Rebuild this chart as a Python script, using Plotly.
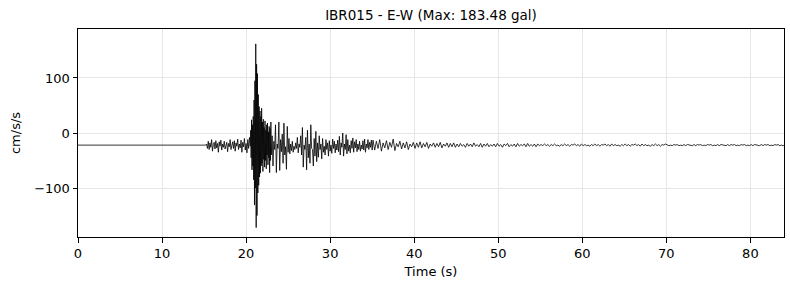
import numpy as np
import plotly.graph_objects as go

# Pre-event flat record
t_pre = [0.0, 15.2]
a_pre = [-22, -22]

# Segment A: 15.3 s onward, dt 0.1 s
a_start, a_dt = 15.3, 0.1
a_vals = [-20, -28, -15, -30, -18, -26, -12, -33, -21, -17, -29, -14, -27, -19, -35, -16, -24, -13,
          -31, -20, -26, -15, -29, -22, -17, -34, -19, -25, -12, -30, -21, -16, -28, -14, -33, -18,
          -24, -11, -30, -20, -27, -13, -35, -17, -25, -10, -31, -19, -36, -12, -28, -8]

# Segment B: strong motion, 20.5 s onward, dt 0.05 s
b_start, b_dt = 20.5, 0.05
b_vals = [-24, 5, -45, 24, -67, 15, -60, 30, -85, 60, -131, 95, -100, 162, -172, 125, -150, 108,
          -109, 70, -95, 48, -80, 40, -73, 30, -60, 45, -55, 20, -70, 25, -48, 10, -62, 22, -50, 5,
          -65, 15, -40, 18, -58, 2, -45, 12, -72, 8, -50, 20, -40]

# Segment C: coda, 23.1 s onward, dt 0.1 s
c_start, c_dt = 23.1, 0.1
c_vals = [-5, -60, -15, -30, 15, -72, -20, -28, 20, -68, -12, -34, -2, -55, 18, -40, -25, -66, 12, -35,
          -10, -38, -20, -32, -15, -35, -24, -30, -18, -28, -8, -36, -20, -26, -5, -40,
          10, -62, -22, -30, -8, -67, 5, -45, -20, -55, 15, -28, -30, -60, -10, -42, 3, -52, -18,
          -44, -5, -30, -20, -47, -10, -35, -24, -40, -12, -30, -18, -42, -14, -33, -22, -37, -11, -28,
          -15, -36, -20, -31, -13, -34,
          -6, -40, -18, -26, 0, -42, -20, -30, -3, -38, -12, -33, -22, -36, -14, -28, -9, -35, -16, -27,
          -12, -34, -20, -30, -15, -33, -22, -29, -14, -31, -11, -35, -20, -27, -12, -30, -17, -26,
          -13, -31]

# Segment D: late coda, 35.1 s onward, dt 0.2 s
d_start, d_dt = 35.1, 0.2
d_vals = [-13, -31, -15, -28, -12, -33, -18, -27, -14, -30, -17, -26, -11, -32, -19, -25, -15, -29,
          -18, -27, -16, -30, -20, -25, -17,
          -28, -18, -26, -16, -27, -19, -25, -17, -28, -20, -24, -18, -26, -19, -25, -17, -27, -20,
          -24, -18, -26, -19, -25, -18, -26,
          -20, -25, -19, -24, -21, -26, -19, -24, -20, -25, -18, -24, -21, -25, -19, -26, -20, -24,
          -19, -25, -21, -24, -20, -25, -19, -24, -21, -26, -20, -23, -19, -25, -21, -24, -20, -25,
          -19, -24, -21, -23, -20, -25, -19, -24, -21, -24, -20, -25, -20, -23,
          -21, -23, -20, -23, -21, -24, -21, -23, -20, -23, -22, -24, -21, -23, -20, -23, -21, -24,
          -21, -22, -20, -23, -21, -24, -20, -23, -21, -23, -22, -24, -21, -23, -20, -23, -21, -24,
          -21, -22, -20, -23, -21, -24, -20, -23, -21, -23, -22, -24, -21, -23, -20, -23, -21, -24,
          -21, -22, -20, -23, -21, -24, -20, -23, -21, -23, -22, -24, -21, -23, -20, -23, -21, -24,
          -21, -22, -20,
          -21, -23, -22, -23, -21, -22, -21, -23, -22, -23, -21, -23, -21, -22, -22, -23, -21, -23,
          -21, -22, -21, -23, -22, -23, -21, -22, -21, -23, -22, -23, -21, -23, -21, -22, -22, -23,
          -21, -23, -21, -22, -21, -23, -22, -23, -21, -22, -21, -23, -22, -23, -21, -23, -21, -22,
          -22, -23, -21, -23, -21, -22, -21, -23, -22, -23, -21, -22, -21, -23, -22, -23, -21, -23]

x_ticks = [0, 10, 20, 30, 40, 50, 60, 70, 80]
y_ticks = [-100, 0, 100]
title_text = "IBR015 - E-W (Max: 183.48 gal)"


def seg_times(start, dt, vals):
    return list(np.round(start + dt * np.arange(len(vals)), 4))


t_all = (t_pre + seg_times(a_start, a_dt, a_vals) + seg_times(b_start, b_dt, b_vals)
         + seg_times(c_start, c_dt, c_vals) + seg_times(d_start, d_dt, d_vals))
a_all = a_pre + a_vals + b_vals + c_vals + d_vals

fig = go.Figure()
fig.add_trace(go.Scatter(x=t_all, y=a_all, mode="lines",
                         line=dict(color="black", width=0.8), hoverinfo="skip"))

font = dict(family="DejaVu Sans", size=13, color="black")
axis_common = dict(showline=True, linecolor="black", linewidth=1, mirror=True,
                   ticks="outside", ticklen=4.5, tickwidth=1, tickcolor="black",
                   showgrid=True, gridcolor="#e6e6e6", gridwidth=1, zeroline=False,
                   tickfont=font)

fig.update_layout(
    width=790, height=290,
    margin=dict(l=78, r=6, t=29, b=53),
    paper_bgcolor="white", plot_bgcolor="white",
    showlegend=False,
    font=font,
    title=dict(text=title_text, x=(78 + 784) / 2 / 790, xanchor="center",
               y=1 - 15 / 290, yanchor="middle", yref="container",
               font=dict(family="DejaVu Sans", size=13.5, color="black")),
    xaxis=dict(range=[0, 84], tickvals=x_ticks, title=dict(text="Time (s)", font=font, standoff=6),
               **axis_common),
    yaxis=dict(range=[-189, 189], tickvals=y_ticks,
               ticktext=["\u2212100", "0", "100"],
               title=dict(text="cm/s/s", font=font, standoff=10), **axis_common),
)

fig.write_html("out.html")
